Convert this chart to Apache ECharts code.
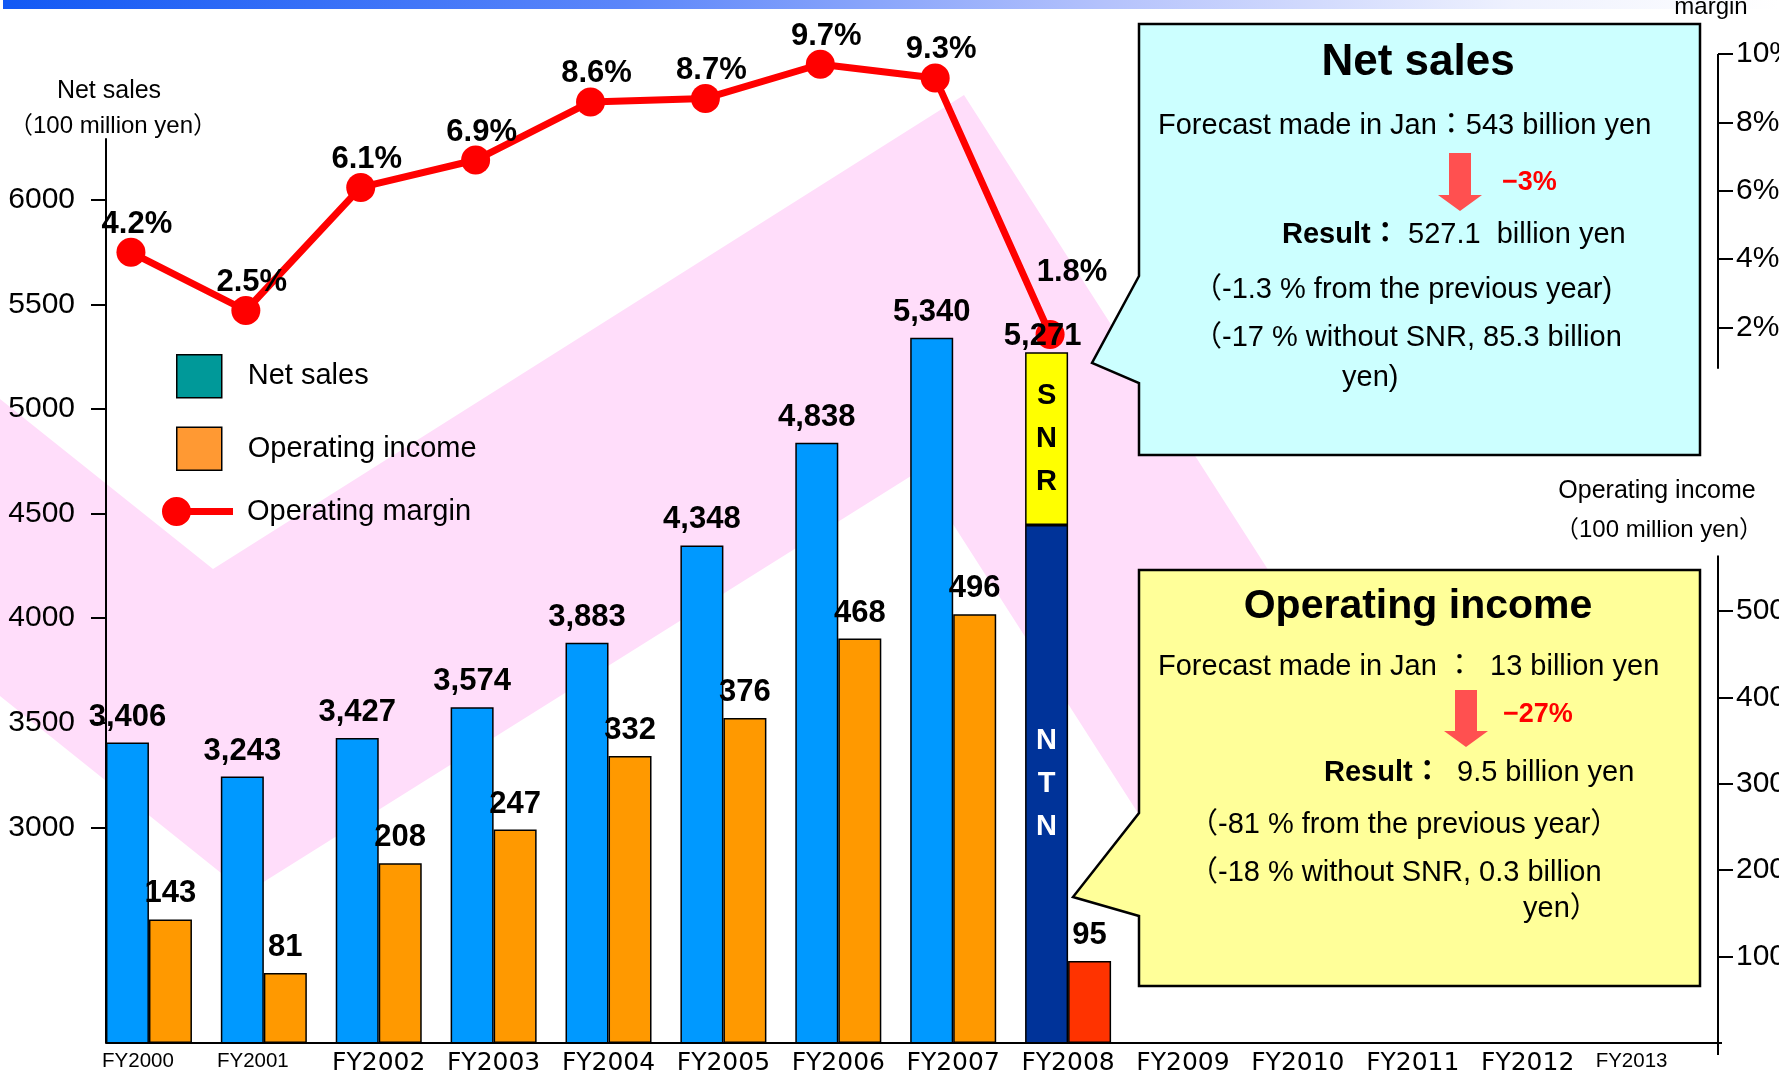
<!DOCTYPE html>
<html>
<head>
<meta charset="utf-8">
<title>Net sales / Operating income</title>
<script src="https://cdn.jsdelivr.net/npm/echarts@6.0.0/dist/echarts.min.js"></script>
<style>
html, body { margin: 0; padding: 0; background: #fff; }
#main { width: 1779px; height: 1078px; }
</style>
</head>
<body>
<div id="main"></div>
<script>
// values
var years = ['FY2000', 'FY2001', 'FY2002', 'FY2003', 'FY2004', 'FY2005', 'FY2006',
  'FY2007', 'FY2008', 'FY2009', 'FY2010', 'FY2011', 'FY2012', 'FY2013'];
var netSales = [3406, 3243, 3427, 3574, 3883, 4348, 4838, 5340, 5271];
var opIncome = [143, 81, 208, 247, 332, 376, 468, 496, 95];
var opMargin = [4.2, 2.5, 6.1, 6.9, 8.6, 8.7, 9.7, 9.3, 1.8];
var ntn2008 = 4445;  // NTN part of the FY2008 bar
var snr2008 = 826;   // SNR part of the FY2008 bar
var salesTicks = [3000, 3500, 4000, 4500, 5000, 5500, 6000];
var incomeTicks = [100, 200, 300, 400, 500];
var marginTicks = [2, 4, 6, 8, 10];
var narrowLabels = ['FY2000', 'FY2001', 'FY2013'];

var ARIAL = '"Liberation Sans", Arial, "Noto Sans CJK JP", sans-serif';
var WIDE = '"DejaVu Sans", sans-serif';
var last = netSales.length - 1; // FY2008 drawn split into NTN / SNR

function upToLast(arr) {
  return years.map(function (y, i) { return i < last ? arr[i] : null; });
}
function onlyLast(v) {
  return years.map(function (y, i) { return i === last ? v : null; });
}
function fmt(v) { return Number(v).toLocaleString('en-US'); }

var valueLabel = {
  show: true, position: 'top', distance: 10,
  fontFamily: ARIAL, fontWeight: 'bold', fontSize: 31, color: '#000'
};
var barBorder = { borderColor: '#000', borderWidth: 1.5 };
var tickLine = { color: '#000', width: 2 };

var myChart = echarts.init(document.getElementById('main'));

var option = {
  animation: false,
  grid: [
    { left: 91.5, right: 79, top: 139, bottom: 35, outerBoundsMode: 'none' },  // bars
    { left: 73.5, right: 97, top: 54, bottom: 682, outerBoundsMode: 'none' }   // margin line, drawn a bit left as in the picture
  ],
  legend: [{
    left: 176, top: 354, orient: 'vertical', padding: 0,
    icon: 'rect', itemWidth: 45, itemHeight: 43, itemGap: 28,
    selectedMode: false,
    textStyle: { fontFamily: ARIAL, fontSize: 29, color: '#000', padding: [0, 0, 0, 21] },
    data: [
      { name: 'Net sales', itemStyle: { color: '#009999', borderColor: '#000', borderWidth: 1.5 } },
      { name: 'Operating income', itemStyle: { color: '#FF9933', borderColor: '#000', borderWidth: 1.5 } }
    ]
  }, {
    left: 162, top: 497, orient: 'vertical', padding: 0,
    itemWidth: 71, itemHeight: 29, selectedMode: false,
    textStyle: { fontFamily: ARIAL, fontSize: 29, color: '#000', padding: [0, 0, 0, 9] },
    data: [{
      name: 'Operating margin',
      icon: 'path://M0,14.5A14.5,14.5,0,1,1,29,14.5A14.5,14.5,0,1,1,0,14.5ZM28,11L71,11L71,18L28,18Z',
      itemStyle: { color: '#FF0000', borderWidth: 0 }
    }]
  }],
  xAxis: [{
    type: 'category', gridIndex: 0, data: years,
    axisLine: { show: false, onZero: false },
    axisTick: { show: false },
    axisLabel: {
      margin: 8,
      formatter: function (v) {
        return narrowLabels.indexOf(v) >= 0 ? '{n|' + v + '}' : '{w|' + v + '}';
      },
      rich: {
        n: { fontFamily: ARIAL, fontSize: 20.5, color: '#000', padding: [0, 22, 0, 0] },
        w: { fontFamily: WIDE, fontSize: 25, color: '#000' }
      }
    }
  }, {
    type: 'category', gridIndex: 1, data: years, show: false
  }],
  yAxis: [{
    type: 'value', gridIndex: 0, position: 'left', offset: -14.5,
    min: 1970, max: 6290,
    splitLine: { show: false },
    axisLine: { show: true, lineStyle: tickLine },
    axisTick: { show: true, length: 15, customValues: salesTicks, lineStyle: tickLine },
    axisLabel: {
      customValues: salesTicks, margin: 31, fontFamily: ARIAL, fontSize: 30, color: '#000',
      formatter: function (v) { return String(v); }
    }
  }, {
    type: 'value', gridIndex: 0, position: 'right', offset: 18,
    min: 0, max: 1046,
    splitLine: { show: false },
    axisLine: { show: false },
    axisTick: { show: true, length: 15, customValues: incomeTicks, lineStyle: tickLine },
    axisLabel: {
      customValues: incomeTicks, margin: 18, fontFamily: ARIAL, fontSize: 30, color: '#000',
      formatter: function (v) { return String(v); }
    }
  }, {
    type: 'value', gridIndex: 1, position: 'right', offset: 36,
    min: 0, max: 10,
    splitLine: { show: false },
    axisLine: { show: false },
    axisTick: { show: true, length: 15, customValues: marginTicks, lineStyle: tickLine },
    axisLabel: { customValues: marginTicks, margin: 18, formatter: '{value}%', fontFamily: ARIAL, fontSize: 30, color: '#000' }
  }],
  series: [{
    name: 'Net sales', type: 'bar', stack: 'ns', xAxisIndex: 0, yAxisIndex: 0,
    barWidth: 43, barGap: '0%',
    data: upToLast(netSales),
    itemStyle: Object.assign({ color: '#0099FF' }, barBorder),
    label: Object.assign({}, valueLabel, { formatter: function (p) { return fmt(p.value); } })
  }, {
    name: 'NTN', type: 'bar', stack: 'ns', xAxisIndex: 0, yAxisIndex: 0,
    barWidth: 43, barGap: '0%',
    data: onlyLast(ntn2008),
    itemStyle: Object.assign({ color: '#003399' }, barBorder),
    label: {
      show: true, position: 'inside', formatter: 'N\nT\nN',
      fontFamily: ARIAL, fontWeight: 'bold', fontSize: 29, lineHeight: 43, color: '#fff'
    }
  }, {
    name: 'SNR', type: 'bar', stack: 'ns', xAxisIndex: 0, yAxisIndex: 0,
    barWidth: 43, barGap: '0%',
    data: onlyLast(snr2008),
    itemStyle: Object.assign({ color: '#FFFF00' }, barBorder),
    label: {
      show: true, position: 'inside', formatter: 'S\nN\nR',
      fontFamily: ARIAL, fontWeight: 'bold', fontSize: 29, lineHeight: 43, color: '#000'
    }
  }, {
    // empty cap on the FY2008 stack, only carries the total label
    name: 'Net sales total', type: 'bar', stack: 'ns', xAxisIndex: 0, yAxisIndex: 0,
    barWidth: 43, barGap: '0%',
    data: onlyLast(0),
    itemStyle: { color: 'rgba(0,0,0,0)', borderWidth: 0 },
    label: Object.assign({}, valueLabel, {
      offset: [-4, 10],
      formatter: function () { return fmt(netSales[last]); }
    })
  }, {
    name: 'Operating income', type: 'bar', stack: 'oi', xAxisIndex: 0, yAxisIndex: 1,
    barWidth: 43, barGap: '0%',
    data: upToLast(opIncome),
    itemStyle: Object.assign({ color: '#FF9900' }, barBorder),
    label: valueLabel
  }, {
    name: 'Operating income FY2008', type: 'bar', stack: 'oi', xAxisIndex: 0, yAxisIndex: 1,
    barWidth: 43, barGap: '0%',
    data: onlyLast(opIncome[last]),
    itemStyle: Object.assign({ color: '#FF3300' }, barBorder),
    label: valueLabel
  }, {
    name: 'Operating margin', type: 'line', xAxisIndex: 1, yAxisIndex: 2,
    z: 1,
    data: years.map(function (y, i) {
      if (i >= opMargin.length) return null;
      if (i === last) return { value: opMargin[i], label: { offset: [22, -32] } };
      return opMargin[i];
    }),
    symbol: 'circle', symbolSize: 29,
    lineStyle: { color: '#FF0000', width: 7 },
    itemStyle: { color: '#FF0000' },
    label: {
      show: true, position: 'top', distance: 0, offset: [6, 2],
      formatter: '{c}%', fontFamily: ARIAL, fontWeight: 'bold', fontSize: 31, color: '#000'
    }
  }]
};
myChart.setOption(option);

// axis lines that only run over part of the plot, plus the decorations
var leftAxisX = 91.5 + 14.5;
var rightAxisX = 1779 - 79 + 18;
var baseY = myChart.convertToPixel({ yAxisIndex: 1 }, 0);
var incomeTopY = myChart.convertToPixel({ yAxisIndex: 1 }, 564);
var marginTopY = myChart.convertToPixel({ yAxisIndex: 2 }, 10);
var marginEndY = myChart.convertToPixel({ yAxisIndex: 2 }, 0.8);

function txt(x, y, s, size, o) {
  o = o || {};
  return {
    type: 'text', z: o.z || 101,
    style: {
      text: s, x: x, y: y,
      fontFamily: o.family || ARIAL, fontSize: size, fontWeight: o.bold ? 'bold' : 'normal',
      fill: o.color || '#000', align: o.align || 'left', verticalAlign: 'middle'
    }
  };
}
function axisSeg(x1, y1, x2, y2) {
  return { type: 'line', z: 5, shape: { x1: x1, y1: y1, x2: x2, y2: y2 }, style: { stroke: '#000', lineWidth: 2 } };
}

var boxLine = { stroke: '#000', lineWidth: 2.5 };

myChart.setOption({
  graphic: [
    // banner strip along the top
    {
      type: 'rect', z: 1, shape: { x: 3, y: 0, width: 1776, height: 9 },
      style: {
        fill: new echarts.graphic.LinearGradient(0, 0, 1, 0, [
          { offset: 0, color: '#1259F4' },
          { offset: 0.35, color: '#5B86FA' },
          { offset: 0.62, color: '#B4C2FC' },
          { offset: 0.85, color: '#EEF1FE' },
          { offset: 1, color: '#FFFFFF' }
        ])
      }
    },
    // pink trend band behind the bars
    {
      type: 'polygon', z: -10,
      shape: { points: [[0, 399], [213, 569], [964, 95], [1518, 960], [1232, 960], [919, 471], [246, 893], [0, 696]] },
      style: { fill: '#FFDDFA' }
    },
    axisSeg(leftAxisX, baseY, rightAxisX + 4, baseY),
    axisSeg(rightAxisX, incomeTopY, rightAxisX, baseY + 12),
    axisSeg(rightAxisX, marginTopY, rightAxisX, marginEndY),

    // axis titles
    txt(109, 91, 'Net sales', 25, { align: 'center' }),
    txt(113, 126, '（100 million yen）', 24, { align: 'center' }),
    txt(1657, 491, 'Operating income', 25, { align: 'center' }),
    txt(1659, 530, '（100 million yen）', 24, { align: 'center' }),
    txt(1711, 7, 'margin', 24, { align: 'center' }),

    // net sales callout
    {
      type: 'polygon', z: 100,
      shape: { points: [[1139, 24], [1700, 24], [1700, 455], [1139, 455], [1139, 383], [1092, 363], [1139, 276]] },
      style: Object.assign({ fill: '#CCFFFF' }, boxLine)
    },
    txt(1418, 63, 'Net sales', 44, { bold: true, align: 'center' }),
    txt(1158, 126, 'Forecast made in Jan：543 billion yen', 29),
    {
      type: 'polygon', z: 101,
      shape: { points: [[1449, 153], [1471, 153], [1471, 195], [1482, 195], [1460, 211], [1438, 195], [1449, 195]] },
      style: { fill: '#FF5050' }
    },
    txt(1502, 183, '−3%', 27, { bold: true, color: '#FF0000' }),
    txt(1282, 235, 'Result：', 29, { bold: true }),
    txt(1408, 235, '527.1  billion yen', 29),
    txt(1193, 290, '（-1.3 % from the previous year)', 29),
    txt(1193, 338, '（-17 % without SNR, 85.3 billion', 29),
    txt(1342, 378, 'yen)', 29),

    // operating income callout
    {
      type: 'polygon', z: 100,
      shape: { points: [[1139, 570], [1700, 570], [1700, 986], [1139, 986], [1139, 916], [1073, 897], [1139, 813]] },
      style: Object.assign({ fill: '#FFFF99' }, boxLine)
    },
    txt(1418, 607, 'Operating income', 41, { bold: true, align: 'center' }),
    txt(1158, 667, 'Forecast made in Jan ：  13 billion yen', 29),
    {
      type: 'polygon', z: 101,
      shape: { points: [[1455, 690], [1477, 690], [1477, 731], [1488, 731], [1466, 747], [1444, 731], [1455, 731]] },
      style: { fill: '#FF5050' }
    },
    txt(1503, 715, '−27%', 27, { bold: true, color: '#FF0000' }),
    txt(1324, 773, 'Result：', 29, { bold: true }),
    txt(1457, 773, '9.5 billion yen', 29),
    txt(1189, 825, '（-81 % from the previous year）', 29),
    txt(1189, 873, '（-18 % without SNR, 0.3 billion', 29),
    txt(1523, 909, 'yen）', 29)
  ]
});
</script>
</body>
</html>
